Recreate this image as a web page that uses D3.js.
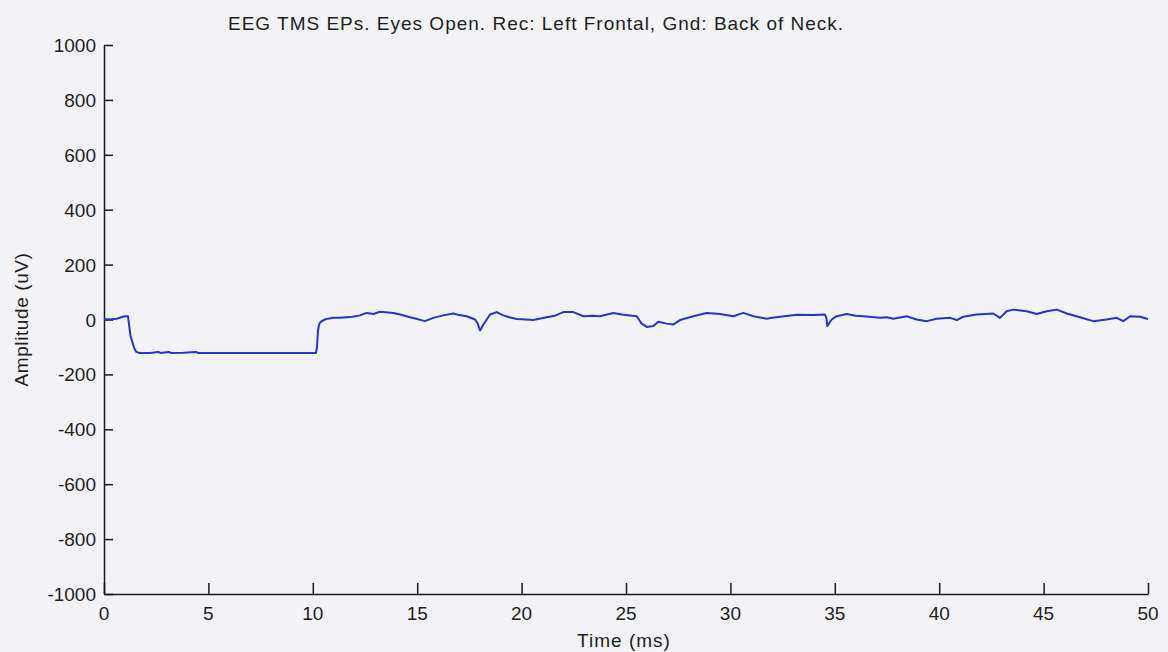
<!DOCTYPE html>
<html>
<head>
<meta charset="utf-8">
<script src="https://cdn.jsdelivr.net/npm/d3@7"></script>
<style>
  html, body { margin: 0; padding: 0; background: #f3f3f7; }
  svg { display: block; }
  text { font-family: "Liberation Sans", Arial, sans-serif; fill: #1e1e1e; }
</style>
</head>
<body>
<svg id="chart" width="1168" height="652"></svg>
<script>
// ---- data ----
const titleText = "EEG TMS EPs. Eyes Open. Rec: Left Frontal, Gnd: Back of Neck.";
const xLabel = "Time (ms)";
const yLabel = "Amplitude (uV)";
const xTicks = [0, 5, 10, 15, 20, 25, 30, 35, 40, 45, 50];
const yTicks = [-1000, -800, -600, -400, -200, 0, 200, 400, 600, 800, 1000];

// time (ms)
const timeMs = [
  0, 0.3, 0.6, 0.9, 1.05, 1.15, 1.2, 1.27, 1.35, 1.45, 1.55, 1.7,
  2.2, 2.6, 2.7, 3.1, 3.2, 3.8, 4.4, 4.5, 5.5, 7, 8.5, 10.15,
  10.2, 10.25, 10.3, 10.34, 10.45, 10.58, 10.8, 10.98, 11.3, 11.62, 11.9, 12.26,
  12.58, 12.9, 13.22, 13.5, 13.86, 14.18, 14.66, 15.0, 15.37, 15.77, 16.25, 16.73,
  17.0, 17.37, 17.77, 17.9, 18.01, 18.17, 18.49, 18.81, 19.12, 19.4, 19.77, 20.2,
  20.56, 21.2, 21.6, 22.0, 22.48, 22.96, 23.4, 23.75, 24.39, 24.8, 25.19, 25.51,
  25.75, 25.99, 26.31, 26.55, 26.95, 27.27, 27.59, 28.22, 28.86, 29.2, 29.5, 30.14,
  30.62, 31.1, 31.74, 32.0, 32.38, 32.8, 33.17, 33.97, 34.53, 34.6, 34.64, 34.85,
  35.09, 35.57, 36.0, 36.37, 37.16, 37.5, 37.8, 38.44, 38.92, 39.4, 39.88, 40.52,
  40.84, 41.15, 41.79, 42.59, 42.91, 43.23, 43.55, 44.19, 44.67, 45.15, 45.63, 46.11,
  46.74, 47.38, 48.02, 48.5, 48.82, 49.14, 49.62, 50
];
// amplitude (uV)
const amplitudeUV = [
  2, 0, 3, 10, 12, 12, -20, -60, -80, -105, -118, -122,
  -122, -118, -122, -118, -122, -121, -118, -122, -122, -122, -122, -122,
  -100, -40, -18, -12, -5, 0, 4, 6, 6, 8, 10, 15,
  24, 20, 28, 26, 24, 18, 8, 2, -6, 6, 15, 22,
  16, 12, 0, -15, -40, -18, 18, 27, 15, 8, 2, 0,
  -2, 8, 14, 27, 27, 12, 14, 12, 24, 18, 15, 12,
  -15, -27, -24, -8, -15, -18, -2, 12, 24, 22, 20, 12,
  24, 12, 3, 6, 10, 14, 17, 16, 18, 5, -24, 0,
  12, 20, 14, 12, 6, 8, 3, 12, 0, -6, 3, 6,
  -2, 10, 18, 22, 6, 30, 36, 30, 20, 30, 36, 22,
  8, -6, 0, 6, -6, 12, 10, 2
];

// ---- layout ----
const svg = d3.select("#chart");
const mLeft = 104, mRight = 1148, mTop = 45, mBottom = 594;

const x = d3.scaleLinear().domain([0, 50]).range([mLeft, mRight]);
const y = d3.scaleLinear().domain([-1000, 1000]).range([mBottom, mTop]);

// x axis (ticks pointing inward)
const xAxis = d3.axisBottom(x).tickValues(xTicks).tickSizeInner(-11).tickSizeOuter(0).tickPadding(0);
const gx = svg.append("g").attr("transform", `translate(0,${mBottom})`).call(xAxis);
gx.selectAll("text").remove();
gx.selectAll("line, path").attr("stroke", "#1a1a1a").attr("stroke-width", 1.5);

const yAxis = d3.axisLeft(y).tickValues(yTicks).tickSizeInner(-9).tickSizeOuter(0);
const gy = svg.append("g").attr("transform", `translate(${mLeft},0)`).call(yAxis);
gy.selectAll("text").remove();
gy.selectAll("line, path").attr("stroke", "#1a1a1a").attr("stroke-width", 1.5);

// tick labels
svg.append("g").selectAll("text").data(xTicks).join("text")
  .attr("x", d => x(d)).attr("y", 620)
  .attr("text-anchor", "middle").attr("font-size", 19)
  .text(d => d);

svg.append("g").selectAll("text").data(yTicks).join("text")
  .attr("x", 96).attr("y", d => y(d) + 7)
  .attr("text-anchor", "end").attr("font-size", 19)
  .text(d => d);

// labels
svg.append("text").attr("x", 624).attr("y", 647).attr("text-anchor", "middle")
  .attr("font-size", 19).attr("letter-spacing", 1).text(xLabel);

svg.append("text").attr("transform", `translate(28,${(mTop + mBottom) / 2}) rotate(-90)`)
  .attr("text-anchor", "middle").attr("font-size", 19).attr("letter-spacing", 0.6).text(yLabel);

svg.append("text").attr("x", 228).attr("y", 29.5).attr("text-anchor", "start")
  .attr("font-size", 19).attr("letter-spacing", 1).text(titleText);

// trace
const pts = timeMs.map((t, i) => [t, amplitudeUV[i]]);
const line = d3.line().x(d => x(d[0])).y(d => y(d[1]));
svg.append("path").datum(pts)
  .attr("d", line)
  .attr("fill", "none")
  .attr("stroke", "#2536cc")
  .attr("stroke-width", 2)
  .attr("stroke-linejoin", "round");
</script>
</body>
</html>
